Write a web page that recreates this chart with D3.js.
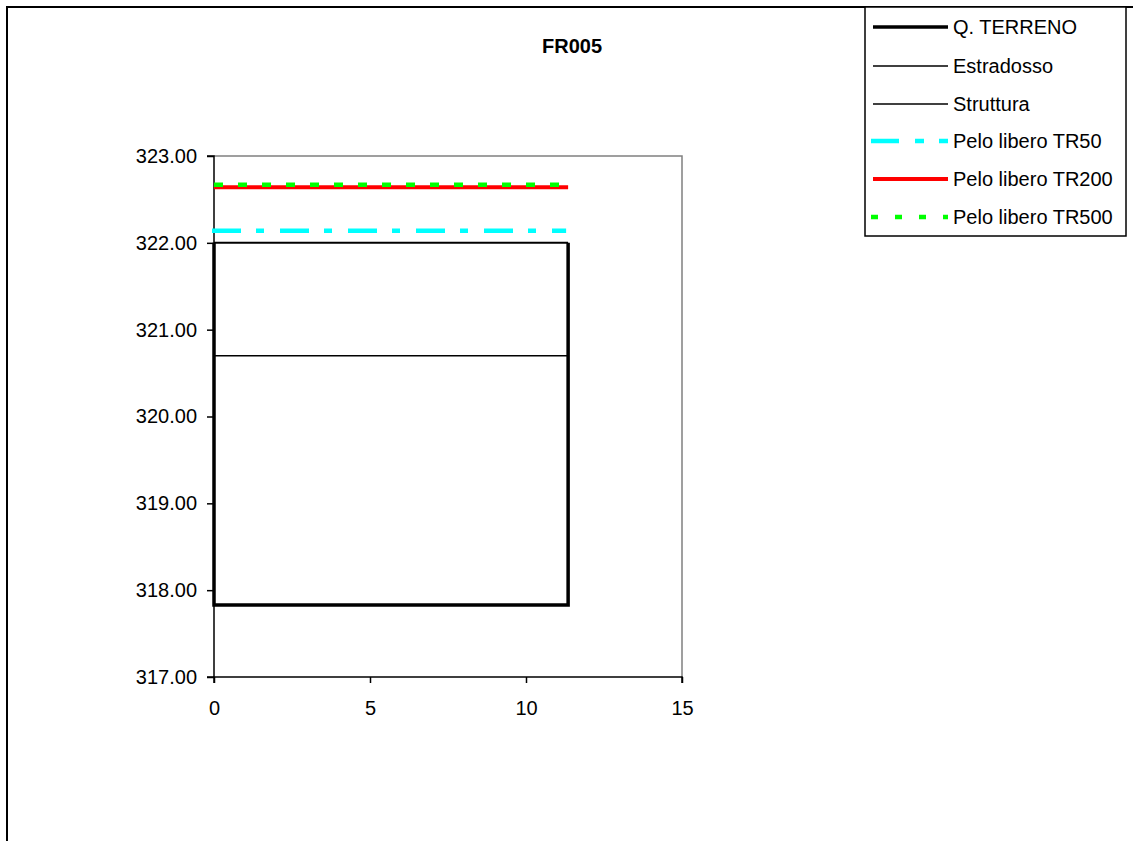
<!DOCTYPE html>
<html><head><meta charset="utf-8">
<script src="https://cdn.jsdelivr.net/npm/d3@7"></script>
<style>body{margin:0;background:#fff;}svg{display:block;font-family:Arial,"Liberation Sans",sans-serif;}</style>
</head><body>
<svg id="c" width="1133" height="841"></svg>
<script>
const title = "FR005";
const xTicks = [0, 5, 10, 15];
const yTicks = [317, 318, 319, 320, 321, 322, 323];
const terrenoX = [0, 0, 11.35, 11.35];
const terrenoY = [322.00, 317.83, 317.83, 322.00];
const estradossoX = [0, 11.35];
const estradossoY = [322.00, 322.00];
const strutturaX = [0, 11.35];
const strutturaY = [320.70, 320.70];
const waterX = [0, 11.35];
const tr50Y = [322.14, 322.14];
const tr200Y = [322.64, 322.64];
const tr500Y = [322.67, 322.67];
const legendLabels = ["Q. TERRENO", "Estradosso", "Struttura", "Pelo libero TR50", "Pelo libero TR200", "Pelo libero TR500"];

const svg = d3.select("#c");
const x = d3.scaleLinear().domain([0, 15]).range([214, 682]);
const y = d3.scaleLinear().domain([317, 323]).range([677, 156]);

// outer border
svg.append("path").attr("d", "M7,841 L7,7 L1133,7").attr("fill", "none").attr("stroke", "#000").attr("stroke-width", 2);

// plot area frame (gray)
svg.append("path").attr("d", `M${x(0)},${y(323)} L${x(15)},${y(323)} L${x(15)},${y(317)}`)
  .attr("fill", "none").attr("stroke", "#808080").attr("stroke-width", 1.5);

// axes
const xAxis = d3.axisBottom(x).tickValues(xTicks).tickSize(6).tickPadding(18).tickFormat(d3.format("d"));
const gx = svg.append("g").attr("transform", `translate(0,${y(317)})`).call(xAxis);
const yAxis = d3.axisLeft(y).tickValues(yTicks).tickSize(7).tickPadding(10).tickFormat(d3.format(".2f"));
const gy = svg.append("g").attr("transform", `translate(${x(0)},0)`).call(yAxis);
[gx, gy].forEach(g => {
  g.select(".domain").attr("stroke", "#000").attr("stroke-width", 1.5);
  g.selectAll(".tick line").attr("stroke", "#000").attr("stroke-width", 1.5);
  g.selectAll(".tick text").attr("font-size", 20).attr("fill", "#000").attr("font-family", "Arial, 'Liberation Sans', sans-serif");
});
gy.select(".domain").attr("d", `M-7,${y(323)}H0V${y(317)}H-7`);
gx.select(".domain").attr("d", `M${x(0)},6V0H${x(15)}V6`);

const line = (xs, ys) => d3.line().x((d, i) => x(xs[i])).y(d => y(d))(ys);

// struttura, estradosso
svg.append("path").attr("d", line(strutturaX, strutturaY)).attr("fill", "none").attr("stroke", "#000").attr("stroke-width", 1.5);
svg.append("path").attr("d", line(estradossoX, estradossoY)).attr("fill", "none").attr("stroke", "#000").attr("stroke-width", 2);
// terreno
svg.append("path").attr("d", line(terrenoX, terrenoY)).attr("fill", "none").attr("stroke", "#000").attr("stroke-width", 3.5).attr("stroke-linejoin", "miter");
// water levels
svg.append("path").attr("d", line(waterX, tr50Y)).attr("fill", "none").attr("stroke", "#00FFFF").attr("stroke-width", 4.5).attr("stroke-dasharray", "29,15,8,16").attr("transform", "translate(-2,0)");
svg.append("path").attr("d", line(waterX, tr200Y)).attr("fill", "none").attr("stroke", "#FF0000").attr("stroke-width", 4);
svg.append("path").attr("d", line(waterX, tr500Y)).attr("fill", "none").attr("stroke", "#00FF00").attr("stroke-width", 4.5).attr("stroke-dasharray", "9,15");

// title
svg.append("text").attr("x", 572).attr("y", 53).attr("text-anchor", "middle").attr("font-size", 20).attr("font-weight", "bold").text(title);

// legend
svg.append("rect").attr("x", 865).attr("y", 7).attr("width", 261).attr("height", 229).attr("fill", "#fff").attr("stroke", "#000").attr("stroke-width", 1.5);
const legStyles = [
  {c: "#000", w: 3.5, d: null},
  {c: "#000", w: 1.5, d: null},
  {c: "#000", w: 1.5, d: null},
  {c: "#00FFFF", w: 4.5, d: "28,16,9,15"},
  {c: "#FF0000", w: 4, d: null},
  {c: "#00FF00", w: 4.5, d: "7,17"}
];
const rowY = [27, 66, 104, 141, 179, 217];
legendLabels.forEach((lab, i) => {
  const s = legStyles[i];
  const x0 = (i === 3 || i === 5) ? 871 : 873;
  const l = svg.append("line").attr("x1", x0).attr("x2", 948).attr("y1", rowY[i]).attr("y2", rowY[i])
    .attr("stroke", s.c).attr("stroke-width", s.w);
  if (s.d) l.attr("stroke-dasharray", s.d);
  svg.append("text").attr("x", 953).attr("y", rowY[i] + 7).attr("font-size", 20).attr("fill", "#000").text(lab);
});
</script>
</body></html>
